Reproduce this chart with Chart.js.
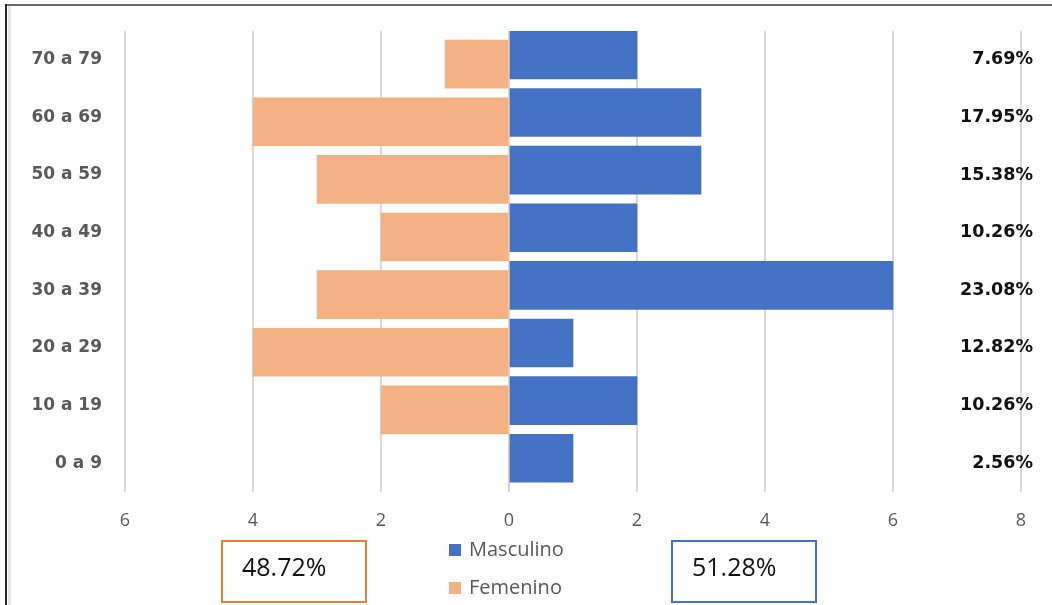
<!DOCTYPE html>
<html lang="es">
<head>
<meta charset="utf-8">
<title>Distribución por edad y sexo</title>
<script src="https://cdn.jsdelivr.net/npm/chart.js@4.4.1/dist/chart.umd.min.js"></script>
<style>
    html, body { margin: 0; padding: 0; background: #fff; }
    #marco { position: relative; width: 1052px; height: 605px; overflow: hidden; }
    #marco .borde-sup { position: absolute; left: 5px; top: 4px; width: 1047px; height: 2px; background: #6b6b6b; }
    #marco .borde-izq { position: absolute; left: 5px; top: 4px; bottom: 0; width: 2px; background: #2b2b2b; }
    #marco .borde-int { position: absolute; left: 8px; top: 6px; bottom: 0; width: 3px; background: #e6e6e6; }
    #grafica { position: absolute; left: 0; top: 0; width: 1052px; height: 605px; }
</style>
</head>
<body>
<div id="marco">
    <div class="borde-sup"></div>
    <div class="borde-izq"></div>
    <div class="borde-int"></div>
    <div id="grafica"><canvas id="piramide"></canvas></div>
</div>
<script>
// Grupos de edad (de abajo hacia arriba) y casos por sexo
const categorias = ['0 a 9', '10 a 19', '20 a 29', '30 a 39', '40 a 49', '50 a 59', '60 a 69', '70 a 79'];
const masculino = [1, 2, 1, 6, 2, 3, 3, 2];
const femenino  = [0, 2, 4, 3, 2, 3, 4, 1];
const ticksX = [-6, -4, -2, 0, 2, 4, 6, 8];

const AZUL = '#4472C4';
const NARANJA = '#F4B183';
const GRIS = '#595959';

const suma = arr => arr.reduce((a, b) => a + b, 0);
const totalCasos = suma(masculino) + suma(femenino);
const pct = v => (v / totalCasos * 100).toFixed(2) + '%';

/**
 * Porcentaje de cada grupo de edad a la derecha de la gráfica.
 */
const etiquetasPorcentaje = {
    id: 'etiquetasPorcentaje',
    afterDatasetsDraw(chart) {
        const ctx = chart.ctx;
        const y = chart.scales.y;
        ctx.save();
        ctx.font = 'bold 17.5px "DejaVu Sans", sans-serif';
        ctx.fillStyle = '#111';
        ctx.textAlign = 'right';
        ctx.textBaseline = 'middle';
        categorias.forEach((_, i) => {
            ctx.fillText(pct(masculino[i] + femenino[i]), 1033, y.getPixelForValue(i));
        });
        ctx.restore();
    }
};

/**
 * Leyenda vertical y cuadros con el total por sexo.
 */
const leyendaTotales = {
    id: 'leyendaTotales',
    afterDraw(chart) {
        const ctx = chart.ctx;
        ctx.save();

        // leyenda
        const items = [
            { texto: 'Masculino', color: AZUL, y: 550 },
            { texto: 'Femenino', color: NARANJA, y: 588 }
        ];
        ctx.font = '20px "Open Sans", sans-serif';
        ctx.textBaseline = 'middle';
        ctx.textAlign = 'left';
        items.forEach(it => {
            ctx.fillStyle = it.color;
            ctx.fillRect(449, it.y - 6, 12, 12);
            ctx.fillStyle = GRIS;
            ctx.fillText(it.texto, 469, it.y);
        });

        // cuadros de totales
        const cuadros = [
            { texto: pct(suma(femenino)), borde: '#ED7D31', x: 222 },
            { texto: pct(suma(masculino)), borde: AZUL, x: 672 }
        ];
        ctx.font = '25px "Open Sans", sans-serif';
        cuadros.forEach(c => {
            ctx.strokeStyle = c.borde;
            ctx.lineWidth = 2;
            ctx.strokeRect(c.x, 541, 144, 61);
            ctx.fillStyle = '#111';
            ctx.fillText(c.texto, c.x + 20, 569);
        });
        ctx.restore();
    }
};

function initPiramide(canvasId) {
    const ctx = document.getElementById(canvasId).getContext('2d');

    return new Chart(ctx, {
        type: 'bar',
        data: {
            datasets: [
                {
                    label: 'Masculino',
                    data: masculino.map((v, i) => ({ x: v, y: i })),
                    backgroundColor: AZUL,
                    yAxisID: 'yM',
                    grouped: false,
                    barThickness: 48
                },
                {
                    label: 'Femenino',
                    data: femenino.map((v, i) => ({ x: -v, y: i })),
                    backgroundColor: NARANJA,
                    yAxisID: 'yF',
                    grouped: false,
                    barThickness: 48
                }
            ]
        },
        options: {
            indexAxis: 'y',
            responsive: true,
            maintainAspectRatio: false,
            animation: false,
            layout: { padding: { top: 31, right: 31, left: 0, bottom: 0 } },
            plugins: {
                legend: { display: false },
                tooltip: { enabled: false }
            },
            scales: {
                x: {
                    type: 'linear',
                    bounds: 'data',
                    min: -6,
                    max: 8,
                    afterBuildTicks: scale => { scale.ticks = ticksX.map(v => ({ value: v })); },
                    afterFit: scale => {
                        scale.height = 113;
                        scale.paddingLeft = 0;
                        scale.paddingRight = 0;
                    },
                    grid: { color: '#d9d9d9', lineWidth: 2, drawTicks: false },
                    border: { display: false },
                    ticks: {
                        padding: 18,
                        color: GRIS,
                        font: { family: '"Open Sans", sans-serif', size: 18 },
                        callback: v => Math.abs(v)
                    }
                },
                // eje con las etiquetas de los grupos
                y: {
                    type: 'linear',
                    position: 'left',
                    bounds: 'data',
                    offset: false,
                    min: -0.5,
                    max: 7.5,
                    afterBuildTicks: scale => { scale.ticks = categorias.map((_, i) => ({ value: i })); },
                    afterFit: scale => {
                        scale.width = 125;
                        scale.paddingTop = 0;
                        scale.paddingBottom = 0;
                    },
                    grid: { display: false, drawTicks: false, offset: false },
                    border: { display: false },
                    ticks: {
                        padding: 23,
                        color: GRIS,
                        font: { family: '"DejaVu Sans", sans-serif', size: 17, weight: 'bold' },
                        callback: v => categorias[v]
                    }
                },
                // ejes ocultos: desplazan ligeramente cada serie dentro de su fila
                yM: { type: 'linear', display: false, bounds: 'data', offset: false, min: -0.585, max: 7.415 },
                yF: { type: 'linear', display: false, bounds: 'data', offset: false, min: -0.425, max: 7.575 }
            }
        },
        plugins: [etiquetasPorcentaje, leyendaTotales]
    });
}

initPiramide('piramide');
</script>
</body>
</html>
